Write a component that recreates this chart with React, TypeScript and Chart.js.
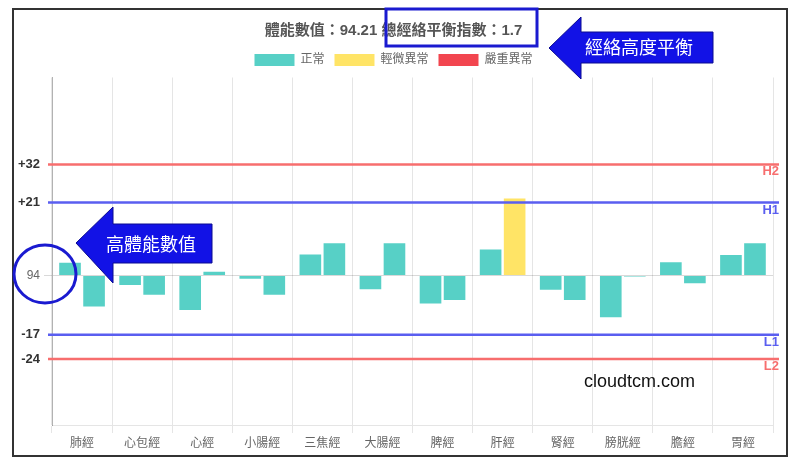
import { useEffect, useRef } from "react";
import { Chart, registerables } from "chart.js";

Chart.register(...registerables);

// meridians, left and right readings as offsets from the base value
const categories = ["肺經", "心包經", "心經", "小腸經", "三焦經", "大腸經", "脾經", "肝經", "腎經", "膀胱經", "膽經", "胃經"];
const leftValues = [3.7, -2.7, -9.9, -0.9, 6.1, -3.9, -8.0, 7.5, -4.1, -12.0, 3.8, 5.9];
const rightValues = [-8.9, -5.5, 1.1, -5.5, 9.3, 9.3, -7.0, 22.2, -7.0, -0.3, -2.2, 9.3];

const baseValue = 94;
const yTicks = [32, 21, 0, -17, -24];
const refValues = [32, 21, -17, -24];
const refLabels = ["H2", "H1", "L1", "L2"];
const legendLabels = ["正常", "輕微異常", "嚴重異常"];
const titleText = "體能數值：94.21 總經絡平衡指數：1.7";

const TEAL = "#57d0c6";
const YELLOW = "#ffe466";
const RED = "#f2454f";
const LINE_RED = "#f76e6e";
const LINE_BLUE = "#5a5ef0";

const statusColor = (v: number) => {
  if (v > 32 || v < -24) return RED;
  if (v > 21 || v < -17) return YELLOW;
  return TEAL;
};

const refLinePlugin = {
  id: "refLines",
  afterInit(chart: any) {
    // a little extra room under the legend
    const legend = chart.legend;
    if (legend) {
      const fit = legend.fit;
      legend.fit = function () {
        fit.call(this);
        this.height += 1.5;
      };
    }
  },
  afterDatasetsDraw(chart: any) {
    const { ctx, chartArea } = chart;
    const y = chart.scales.y;
    ctx.save();
    refValues.forEach((v, i) => {
      const py = y.getPixelForValue(v);
      const color = i === 0 || i === 3 ? LINE_RED : LINE_BLUE;
      ctx.strokeStyle = color;
      ctx.lineWidth = 2.5;
      ctx.beginPath();
      ctx.moveTo(chartArea.left - 4, py);
      ctx.lineTo(chartArea.right + 6, py);
      ctx.stroke();
      ctx.fillStyle = color;
      ctx.font = "bold 13px 'Liberation Sans', sans-serif";
      ctx.textAlign = "right";
      ctx.textBaseline = "top";
      ctx.fillText(refLabels[i], chartArea.right + 6, py + 1);
    });
    ctx.restore();
  },
};

const FONT = "'Liberation Sans', 'Noto Sans CJK TC', sans-serif";

const MeridianChart = () => {
  const chartRef = useRef<HTMLCanvasElement>(null);

  useEffect(() => {
    if (!chartRef.current) return;
    Chart.defaults.font.family = FONT;
    const chart = new Chart(chartRef.current, {
      type: "bar",
      data: {
        labels: categories,
        datasets: [
          {
            label: "左",
            data: leftValues,
            backgroundColor: leftValues.map(statusColor),
          },
          {
            label: "右",
            data: rightValues,
            backgroundColor: rightValues.map(statusColor),
          },
        ],
      },
      options: {
        animation: false,
        responsive: true,
        maintainAspectRatio: false,
        layout: { padding: { top: 3, right: 13, left: 0, bottom: 0 } },
        plugins: {
          title: {
            display: true,
            text: titleText,
            color: "#555",
            font: { size: 15, weight: "bold" },
            padding: { top: 9, bottom: 4 },
          },
          legend: {
            labels: {
              color: "#666",
              font: { size: 12 },
              boxWidth: 40,
              generateLabels: () =>
                legendLabels.map((text, i) => ({
                  text,
                  fillStyle: [TEAL, YELLOW, RED][i],
                  strokeStyle: [TEAL, YELLOW, RED][i],
                  lineWidth: 0,
                  hidden: false,
                  fontColor: "#666",
                })),
            },
            onClick: () => {},
          },
          tooltip: { enabled: false },
        },
        scales: {
          x: {
            afterFit: (s: any) => {
              s.height = 30;
            },
            grid: { color: "rgba(0,0,0,0.1)", tickLength: 8 },
            border: { color: "rgba(0,0,0,0.1)" },
            ticks: { color: "#666", font: { size: 12 } },
          },
          y: {
            min: -43,
            max: 57,
            afterFit: (s: any) => {
              s.width = 38;
            },
            afterBuildTicks: (s: any) => {
              s.ticks = yTicks.map((value) => ({ value }));
            },
            grid: {
              tickLength: 8,
              color: (c: any) => (c.tick && c.tick.value === 0 ? "rgba(0,0,0,0.15)" : "transparent"),
            },
            border: { color: "rgba(0,0,0,0.3)" },
            ticks: {
              padding: 4,
              callback: (v: any) => (v === 0 ? String(baseValue) : v > 0 ? "+" + v : String(v)),
              color: (c: any) => (c.tick && c.tick.value === 0 ? "#666" : "#333"),
              font: (c: any) =>
                c.tick && c.tick.value === 0 ? { size: 12, weight: "normal" } : { size: 13, weight: "bold" },
            },
          },
        },
      },
      plugins: [refLinePlugin],
    } as any);

    return () => {
      chart.destroy();
    };
  }, []);

  return <canvas ref={chartRef} />;
};

export default function App() {
  return (
    <div
      style={{
        position: "fixed",
        left: 0,
        top: 0,
        width: 800,
        height: 468,
        background: "#fff",
        fontFamily: FONT,
      }}
    >
      <div
        style={{
          position: "absolute",
          left: 12,
          top: 8,
          width: 772,
          height: 445,
          border: "2px solid #333",
        }}
      />
      <div style={{ position: "absolute", left: 14, top: 10, width: 772, height: 445 }}>
        <MeridianChart />
      </div>
      <svg
        width={800}
        height={468}
        style={{ position: "absolute", left: 0, top: 0, pointerEvents: "none" }}
      >
        <rect x={386} y={9} width={151} height={37} fill="none" stroke="#1a1ad0" strokeWidth={3} />
        <polygon
          points="549,48 581,17 581,32 713,32 713,63 581,63 581,79"
          fill="#1212e6"
          stroke="#0a0a90"
          strokeWidth={1}
        />
        <text x={585} y={54} fill="#fff" fontSize={18} fontFamily={FONT}>
          經絡高度平衡
        </text>
        <polygon
          points="76,243 113,207 113,224 212,224 212,263 113,263 113,283"
          fill="#1212e6"
          stroke="#0a0a90"
          strokeWidth={1}
        />
        <text x={106} y={251} fill="#fff" fontSize={18} fontFamily={FONT}>
          高體能數值
        </text>
        <ellipse cx={45} cy={274} rx={31} ry={29} fill="none" stroke="#1a1ad0" strokeWidth={3} />
        <text x={584} y={387} fill="#111" fontSize={18} fontFamily={FONT}>
          cloudtcm.com
        </text>
      </svg>
    </div>
  );
}
